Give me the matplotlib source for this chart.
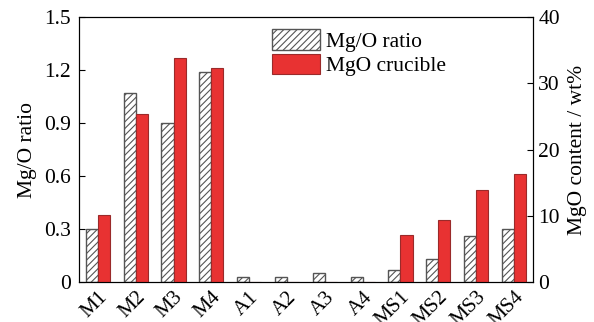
import matplotlib.pyplot as plt
import numpy as np

plt.rcParams['font.family'] = ['Liberation Serif', 'DejaVu Serif']
plt.rcParams['hatch.color'] = '#999999'
plt.rcParams['hatch.linewidth'] = 0.8

samples = ['M1', 'M2', 'M3', 'M4', 'A1', 'A2', 'A3', 'A4', 'MS1', 'MS2', 'MS3', 'MS4']
mgo_ratio = [0.30, 1.07, 0.90, 1.19, 0.03, 0.03, 0.05, 0.03, 0.07, 0.13, 0.26, 0.30]
mgo_content = [10.1, 25.4, 33.8, 32.3, 0, 0, 0, 0, 7.1, 9.3, 13.9, 16.3]
left_ticks = [0, 0.3, 0.6, 0.9, 1.2, 1.5]
left_labels = ['0', '0.3', '0.6', '0.9', '1.2', '1.5']
right_ticks = [0, 10, 20, 30, 40]

fig = plt.figure(figsize=(5.94, 3.22), dpi=100)
ax = fig.add_axes([0.133, 0.124, 0.764, 0.823])
ax2 = ax.twinx()

x = np.arange(len(samples))
w = 0.32
b1 = ax.bar(x - w / 2, mgo_ratio, w, facecolor='white', edgecolor='#555555',
            hatch='/////', linewidth=1.0, label='Mg/O ratio')
b2 = ax2.bar(x + w / 2, mgo_content, w, facecolor='#e83232', edgecolor='#9a2a2a',
             linewidth=0.8, label='MgO crucible')

ax.set_xlim(-0.5, len(samples) - 0.5)
ax.set_ylim(0, 1.5)
ax2.set_ylim(0, 40)
ax.set_yticks(left_ticks)
ax.set_yticklabels(left_labels)
ax2.set_yticks(right_ticks)
ax.set_xticks(x)
ax.set_xticklabels(samples, rotation=45, ha='right', rotation_mode='anchor')

fs = 15.5
ax.tick_params(axis='y', direction='in', length=4, labelsize=fs, pad=6)
ax.tick_params(axis='x', length=0, labelsize=15, pad=4)
ax2.tick_params(axis='y', direction='in', length=4, labelsize=fs, pad=4)
ax.set_ylabel('Mg/O ratio', fontsize=fs, labelpad=5)
ax2.set_ylabel('MgO content / wt%', fontsize=fs, labelpad=6)

ax.legend([b1, b2], ['Mg/O ratio', 'MgO crucible'], loc='upper left',
          bbox_to_anchor=(0.40, 1.0), frameon=False, fontsize=fs,
          handlelength=2.2, handleheight=1.1, handletextpad=0.3,
          labelspacing=0.1, borderaxespad=0.15)

fig.savefig('out.png', dpi=100)
